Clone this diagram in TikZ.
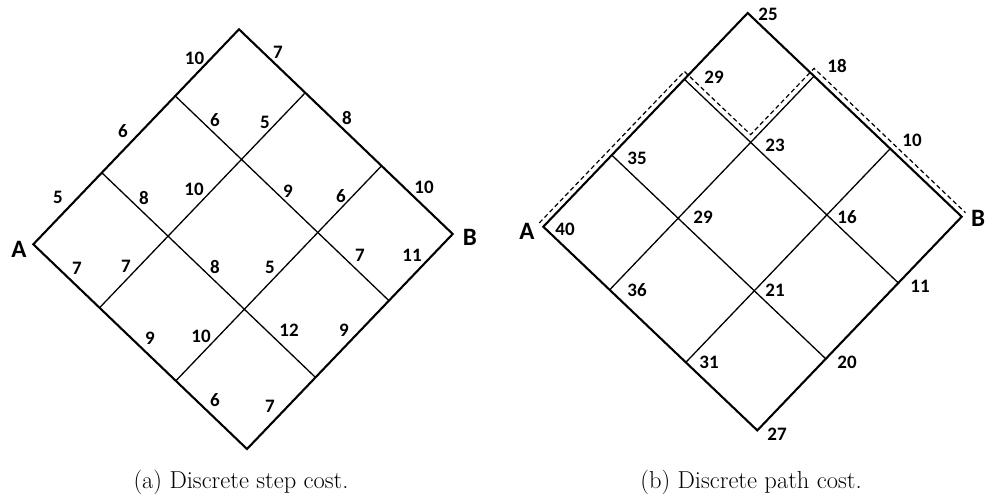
\documentclass[tikz,border=0pt]{standalone}
\usepackage{fontspec}
\newfontfamily\numfont{Carlito}
\usetikzlibrary{calc}
\begin{document}
\begin{tikzpicture}[x=1pt,y=-1pt,
  outer/.style={line width=2.1pt},
  inner/.style={line width=1.3pt},
  cost/.style={font=\numfont\bfseries\fontsize{19}{21}\selectfont, inner sep=0pt},
  endpt/.style={font=\numfont\bfseries\fontsize{25}{28}\selectfont, inner sep=0pt},
  captext/.style={font=\fontsize{24.5}{28}\selectfont, inner sep=0pt, anchor=base},
  route/.style={line width=1.2pt, dash pattern=on 4.5pt off 3pt}]
\useasboundingbox (0,0) rectangle (987,499);
% ---------- grid points (a) ----------
\foreach \i/\s in {0/0,1/0.333,2/0.69,3/1}
  \foreach \j/\r in {0/0,1/0.31,2/0.667,3/1}
    \coordinate (a\i\j) at ({33.3+\s*205.7+\r*213.7},{244.3-\s*215+\r*204.7});
% ---------- grid points (b) ----------
\foreach \i/\s in {0/0,1/0.335,2/0.69,3/1}
  \foreach \j/\r in {0/0,1/0.31,2/0.666,3/1}
    \coordinate (b\i\j) at ({543.3+\s*204.4+\r*214},{226.7-\s*213.7+\r*203.7});
% ---------- diagram (a) ----------
\draw[inner] (a10) -- (a13);
\draw[inner] (a20) -- (a23);
\draw[inner] (a01) -- (a31);
\draw[inner] (a02) -- (a32);
\draw[outer] (a00) -- (a30) -- (a33) -- (a03) -- cycle;
\foreach \n/\x/\y/\t in {1/194.5/58/10, 2/123/131/6, 3/58/197/5, 4/215/120/6,
  5/194/189/10, 6/144/198/8, 7/278/52/7, 8/347/118/8, 9/424/187/10,
  10/265/122/5, 11/288/191/9, 12/341/196/6, 13/77/268/7, 14/126/266/7,
  15/215/267/8, 16/150/338/9, 17/201/336/10, 18/215/400/6, 19/360/255/7,
  20/412/255/11, 21/270/267/5, 22/289/330/12, 23/344/330/9, 24/270/406/7}
  \node[cost] (ca\n) at (\x,\y) {\t};
\node[endpt] (aA) at (19,249) {A};
\node[endpt] (aB) at (470,237) {B};
\node[captext] (capa) at (241,488) {(a) Discrete step cost.};
% ---------- diagram (b) ----------
\draw[inner] (b10) -- (b13);
\draw[inner] (b20) -- (b23);
\draw[inner] (b01) -- (b31);
\draw[inner] (b02) -- (b32);
\draw[outer] (b00) -- (b30) -- (b33) -- (b03) -- cycle;
\draw[route] ($(b00)+(-4,-3.8)$) -- ($(b20)+(0,-7.8)$) -- ($(b21)+(0,-7.8)$)
  -- ($(b31)+(0,-7.8)$) -- ($(b33)+(3.8,-4)$);
\foreach \n/\x/\y/\t in {1/768/14/25, 2/714/77/29, 3/637/158/35, 4/703/217/29,
  5/565/229/40, 6/837/66/18, 7/775/145/23, 8/912/140/10, 9/847/217/16,
  10/637/290/36, 11/709/362/31, 12/775/290/21, 13/920/286/11, 14/847/362/20,
  15/777/434/27}
  \node[cost] (cb\n) at (\x,\y) {\t};
\node[endpt] (bA) at (527,231) {A};
\node[endpt] (bB) at (978,218) {B};
\node[captext] (capb) at (751,488) {(b) Discrete path cost.};
\end{tikzpicture}
\end{document}
